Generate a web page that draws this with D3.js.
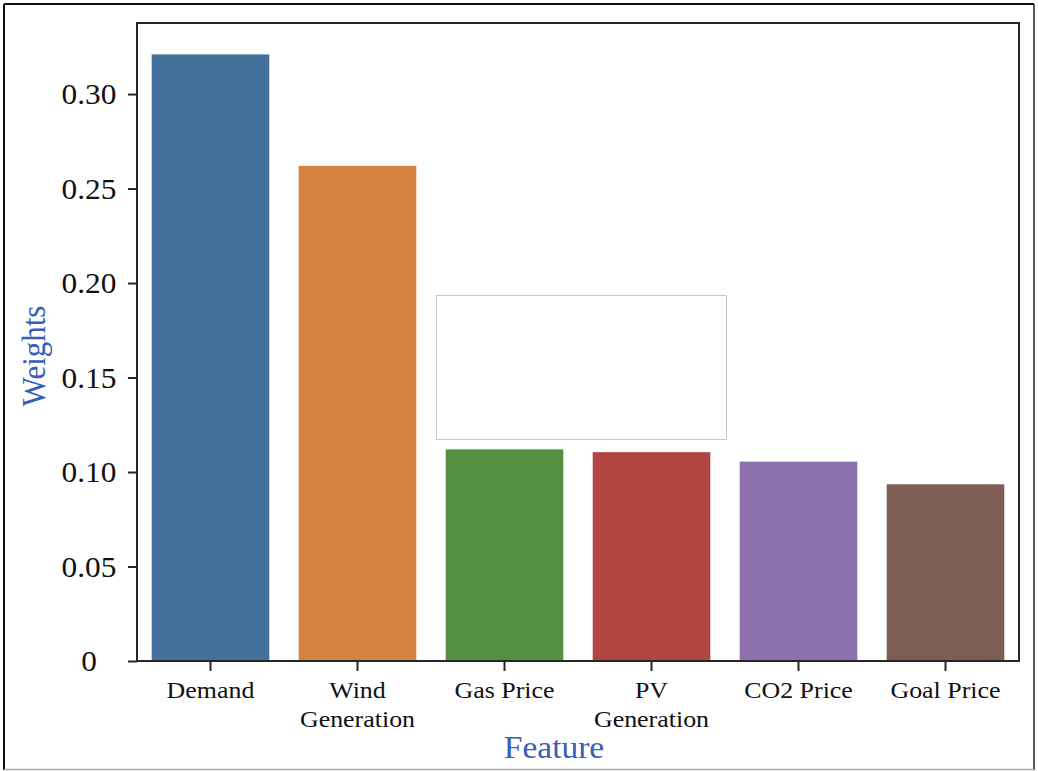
<!DOCTYPE html>
<html>
<head>
<meta charset="utf-8">
<script src="https://cdn.jsdelivr.net/npm/d3@7"></script>
<style>
  html, body { margin: 0; padding: 0; background: #fff; }
  text { font-family: "Liberation Serif", "Times New Roman", serif; }
</style>
</head>
<body>
<div class="canvas"></div>
<script>
// data
const features = ["Demand", "Wind Generation", "Gas Price", "PV Generation", "CO2 Price", "Goal Price"];
const featureLines = [["Demand"], ["Wind", "Generation"], ["Gas Price"], ["PV", "Generation"], ["CO2 Price"], ["Goal Price"]];
const weights = [0.321, 0.262, 0.112, 0.1105, 0.1055, 0.0935];
const yTicks = [0, 0.05, 0.10, 0.15, 0.20, 0.25, 0.30];
const yTickLabels = ["0", "0.05", "0.10", "0.15", "0.20", "0.25", "0.30"];
const barColors = ["#44719c", "#d4843f", "#53903f", "#b04542", "#8d71ae", "#7e5d53"];

// margins and dimensions
const w = 1038;
const h = 771;
const margin = { top: 23, right: 19, bottom: 110, left: 137 };
const graphWidth = w - margin.left - margin.right;
const graphHeight = h - margin.top - margin.bottom;
const labelBlue = "#3560b5";
const stretch = 1.08; // text in the picture is a bit wider than it is tall

const svg = d3.select(".canvas").append("svg").attr("width", w).attr("height", h);

// outer frame
svg.append("line").attr("x1", 4).attr("y1", 4).attr("x2", 1034).attr("y2", 4).attr("stroke", "#111").attr("stroke-width", 2);
svg.append("line").attr("x1", 4).attr("y1", 4).attr("x2", 4).attr("y2", 770).attr("stroke", "#111").attr("stroke-width", 2);
svg.append("line").attr("x1", 1034).attr("y1", 4).attr("x2", 1034).attr("y2", 770).attr("stroke", "#222").attr("stroke-width", 1.5);
svg.append("line").attr("x1", 4).attr("y1", 769.5).attr("x2", 1034).attr("y2", 769.5).attr("stroke", "#aaa").attr("stroke-width", 1.5);

const graph = svg.append("g").attr("transform", `translate(${margin.left}, ${margin.top})`);

// scales
const x = d3.scaleBand().domain(features).range([0, graphWidth]).paddingInner(0.2).paddingOuter(0.1);
const y = d3.scaleLinear().domain([0, 0.3376]).range([graphHeight, 0]);

// bars
graph
  .selectAll("rect.bar")
  .data(features)
  .enter()
  .append("rect")
  .attr("class", "bar")
  .attr("x", (d) => x(d))
  .attr("width", x.bandwidth())
  .attr("y", (d, i) => y(weights[i]))
  .attr("height", (d, i) => graphHeight - y(weights[i]))
  .attr("fill", (d, i) => barColors[i]);

// white box covering part of the plot
svg
  .append("rect")
  .attr("x", 436.5)
  .attr("y", 295.5)
  .attr("width", 290)
  .attr("height", 144)
  .attr("fill", "#fff")
  .attr("stroke", "#c8c8c8")
  .attr("stroke-width", 1);

// spines
graph
  .append("rect")
  .attr("width", graphWidth)
  .attr("height", graphHeight)
  .attr("fill", "none")
  .attr("stroke", "#262626")
  .attr("stroke-width", 2);

// y axis
const yAxis = d3.axisLeft(y).tickValues(yTicks).tickSize(9).tickFormat("");
const yG = graph.append("g").call(yAxis);
yG.select(".domain").remove();
yG.selectAll(".tick line").attr("stroke", "#262626").attr("stroke-width", 2);
yG.selectAll(".tick")
  .append("text")
  .attr("transform", `translate(-48, 0) scale(${stretch}, 1)`)
  .attr("text-anchor", "middle")
  .attr("dy", "0.34em")
  .attr("fill", "#111")
  .style("font-size", "29px")
  .text((d, i) => yTickLabels[i]);

// x axis
const xAxis = d3.axisBottom(x).tickSize(10).tickFormat("");
const xG = graph.append("g").attr("transform", `translate(0, ${graphHeight})`).call(xAxis);
xG.select(".domain").remove();
xG.selectAll(".tick line").attr("stroke", "#262626").attr("stroke-width", 2);
xG.selectAll(".tick")
  .append("text")
  .attr("transform", `translate(0, 37) scale(${stretch}, 1)`)
  .attr("text-anchor", "middle")
  .attr("fill", "#111")
  .style("font-size", "24px")
  .selectAll("tspan")
  .data((d, i) => featureLines[i])
  .enter()
  .append("tspan")
  .attr("x", 0)
  .attr("y", (d, i) => i * 29.5)
  .text((d) => d);

// axis titles
svg
  .append("text")
  .attr("transform", `translate(45, 356) rotate(-90) scale(1, ${stretch})`)
  .attr("text-anchor", "middle")
  .attr("fill", labelBlue)
  .style("font-size", "31px")
  .text("Weights");

svg
  .append("text")
  .attr("transform", `translate(554, 758) scale(${stretch}, 1)`)
  .attr("text-anchor", "middle")
  .attr("fill", labelBlue)
  .style("font-size", "31px")
  .text("Feature");
</script>
</body>
</html>
